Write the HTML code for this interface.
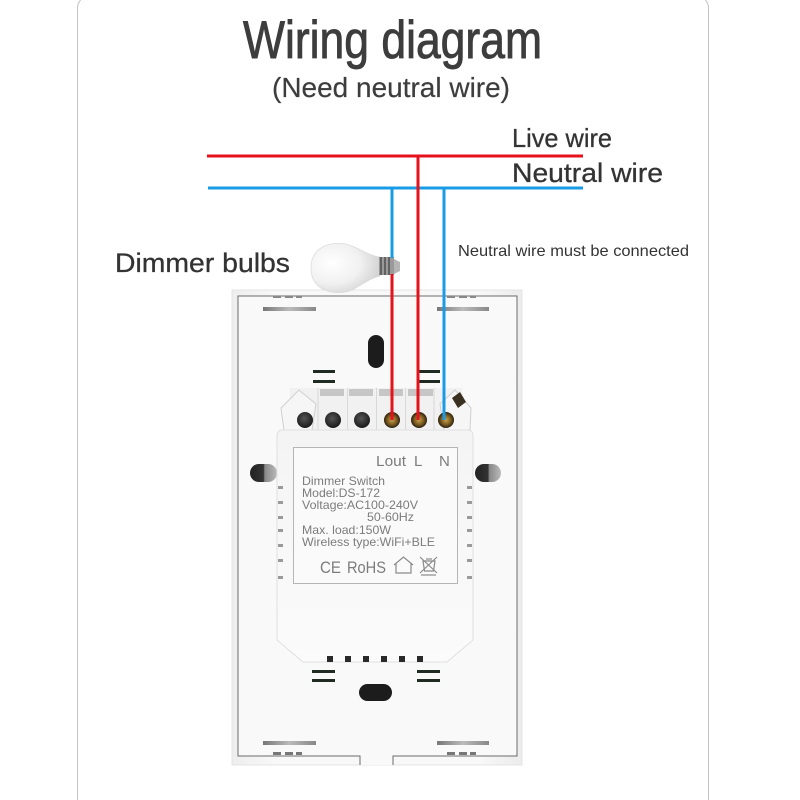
<!DOCTYPE html>
<html><head><meta charset="utf-8"><style>
html,body{margin:0;padding:0;background:#fff;}
svg{display:block;}
text{font-family:"Liberation Sans",sans-serif;}
</style></head><body>
<svg width="800" height="800" viewBox="0 0 800 800" xmlns="http://www.w3.org/2000/svg">
<defs>
<linearGradient id="plateG" x1="0" x2="1" y1="0" y2="0">
<stop offset="0" stop-color="#eeeeee"/><stop offset="0.15" stop-color="#f8f8f8"/><stop offset="0.85" stop-color="#f8f8f8"/><stop offset="1" stop-color="#ececec"/>
</linearGradient>
<linearGradient id="modG" x1="0" x2="0" y1="0" y2="1">
<stop offset="0" stop-color="#f4f4f4"/><stop offset="1" stop-color="#fbfbfb"/>
</linearGradient>
<radialGradient id="bulbG" cx="0.3" cy="0.4" r="0.75">
<stop offset="0" stop-color="#ffffff"/><stop offset="0.55" stop-color="#f1f1f1"/><stop offset="1" stop-color="#cfcfcf"/>
</radialGradient>
<radialGradient id="goldG" cx="0.5" cy="0.5" r="0.5">
<stop offset="0" stop-color="#c9a24a"/><stop offset="0.6" stop-color="#7a5a20"/><stop offset="1" stop-color="#2a2010"/>
</radialGradient>
<radialGradient id="holeG" cx="0.45" cy="0.4" r="0.6">
<stop offset="0" stop-color="#555"/><stop offset="1" stop-color="#1a1a1a"/>
</radialGradient>
<linearGradient id="slotG" x1="0" x2="1" y1="0" y2="0">
<stop offset="0" stop-color="#777"/><stop offset="0.5" stop-color="#bbb"/><stop offset="1" stop-color="#888"/>
</linearGradient>
<linearGradient id="sideHole" x1="0" x2="1" y1="0" y2="0">
<stop offset="0" stop-color="#222"/><stop offset="0.5" stop-color="#333"/><stop offset="0.55" stop-color="#888"/><stop offset="1" stop-color="#bbb"/>
</linearGradient>
</defs>

<rect x="77.5" y="-4" width="631" height="830" rx="12" fill="none" stroke="#c4c4c4" stroke-width="1"/>

<text x="243" y="58" font-size="53" fill="#3d3d3d" stroke="#3d3d3d" stroke-width="0.9" textLength="299" lengthAdjust="spacingAndGlyphs">Wiring diagram</text>
<text x="272" y="97" font-size="28" fill="#3d3d3d" stroke="#3d3d3d" stroke-width="0.2" textLength="238" lengthAdjust="spacingAndGlyphs">(Need neutral wire)</text>

<text x="512" y="147" font-size="26" fill="#333" stroke="#333" stroke-width="0.3" textLength="100" lengthAdjust="spacingAndGlyphs">Live wire</text>
<text x="512" y="182" font-size="27" fill="#333" stroke="#333" stroke-width="0.3" textLength="151" lengthAdjust="spacingAndGlyphs">Neutral wire</text>
<text x="115" y="272" font-size="27" fill="#333" stroke="#333" stroke-width="0.3" textLength="175" lengthAdjust="spacingAndGlyphs">Dimmer bulbs</text>
<text x="458" y="256" font-size="16" fill="#333" textLength="231" lengthAdjust="spacingAndGlyphs">Neutral wire must be connected</text>

<rect x="232" y="290" width="290" height="475" fill="url(#plateG)" stroke="#e4e4e4"/>
<polygon points="238,296 517,296 517,756 393,756 393,765 360,765 360,756 238,756" fill="#f9f9f9"/>
<path d="M360,765 V756 H238 V296 H517 V756 H393 V765" fill="none" stroke="#6a6a6a" stroke-width="1"/>

<rect x="263" y="307" width="53" height="4" fill="url(#slotG)"/>
<rect x="437" y="307" width="52" height="4" fill="url(#slotG)"/>
<g fill="#888"><rect x="273" y="296" width="8" height="2"/><rect x="285" y="296" width="8" height="2"/><rect x="296" y="296" width="6" height="2"/>
<rect x="447" y="296" width="8" height="2"/><rect x="459" y="296" width="8" height="2"/><rect x="470" y="296" width="6" height="2"/></g>
<rect x="263" y="741" width="53" height="4" fill="url(#slotG)"/>
<rect x="437" y="741" width="52" height="4" fill="url(#slotG)"/>
<g fill="#777"><rect x="273" y="752" width="8" height="3"/><rect x="285" y="752" width="8" height="3"/><rect x="296" y="752" width="6" height="3"/>
<rect x="447" y="752" width="8" height="3"/><rect x="459" y="752" width="8" height="3"/><rect x="470" y="752" width="6" height="3"/></g>

<rect x="368" y="335" width="16" height="33" rx="8" fill="#1c1c1c"/>
<rect x="359" y="684" width="33" height="17" rx="8.5" fill="#1c1c1c"/>

<rect x="250" y="464" width="27" height="18" rx="9" fill="url(#sideHole)"/>
<rect x="475" y="464" width="26" height="18" rx="9" fill="url(#sideHole)"/>

<g fill="#1e2a22">
<rect x="313" y="370" width="22" height="3"/><rect x="313" y="380" width="22" height="3"/>
<rect x="419" y="370" width="21" height="3"/><rect x="419" y="380" width="21" height="3"/>
<rect x="312" y="670" width="23" height="3"/><rect x="312" y="679" width="23" height="3"/>
<rect x="417" y="670" width="23" height="3"/><rect x="417" y="679" width="23" height="3"/>
</g>

<rect x="290" y="388" width="172" height="44" fill="#f1f1f1"/>
<polygon points="281,408 299,390 316,404 312,430 284,430" fill="#f6f6f6" stroke="#cfcfcf"/>
<polygon points="471,408 455,390 440,404 444,430 470,430" fill="#f6f6f6" stroke="#cfcfcf"/>
<g fill="#c6c6c6">
<rect x="320" y="389" width="24" height="7"/><rect x="349" y="389" width="24" height="7"/>
<rect x="379" y="389" width="24" height="7"/><rect x="408" y="389" width="25" height="7"/>
</g>
<g stroke="#d8d8d8" stroke-width="1">
<line x1="318" y1="388" x2="318" y2="430"/><line x1="347.5" y1="388" x2="347.5" y2="430"/>
<line x1="376.5" y1="388" x2="376.5" y2="430"/><line x1="405.5" y1="388" x2="405.5" y2="430"/>
<line x1="434" y1="388" x2="434" y2="430"/>
</g>
<circle cx="305" cy="420" r="8" fill="url(#holeG)"/>
<circle cx="333" cy="420" r="8" fill="url(#holeG)"/>
<circle cx="362" cy="420" r="8" fill="url(#holeG)"/>
<circle cx="392" cy="420" r="8" fill="url(#goldG)"/>
<circle cx="419" cy="420" r="8" fill="url(#goldG)"/>
<circle cx="446" cy="420" r="8" fill="url(#goldG)"/>
<polygon points="452,398 460,392 466,402 458,408" fill="#3a3020"/>

<path d="M277,436 Q277,430 283,430 H467 Q473,430 473,436 V640 L447,662 H303 L277,640 Z" fill="url(#modG)" stroke="#e0e0e0"/>
<g fill="#2a2a2a">
<rect x="327" y="656" width="6" height="6"/><rect x="345" y="656" width="6" height="6"/>
<rect x="363" y="656" width="6" height="6"/><rect x="381" y="656" width="6" height="6"/>
<rect x="399" y="656" width="6" height="6"/><rect x="417" y="656" width="6" height="6"/>
</g>
<g fill="#9a9a9a">
<rect x="278" y="486" width="5" height="3"/><rect x="278" y="501" width="5" height="3"/><rect x="278" y="516" width="5" height="3"/>
<rect x="278" y="529" width="5" height="3"/><rect x="278" y="544" width="5" height="3"/><rect x="278" y="559" width="5" height="3"/><rect x="278" y="576" width="5" height="3"/>
<rect x="467" y="486" width="5" height="3"/><rect x="467" y="501" width="5" height="3"/><rect x="467" y="516" width="5" height="3"/>
<rect x="467" y="529" width="5" height="3"/><rect x="467" y="544" width="5" height="3"/><rect x="467" y="559" width="5" height="3"/><rect x="467" y="576" width="5" height="3"/>
</g>

<rect x="293.5" y="447.5" width="164" height="136" fill="#fafafa" stroke="#b5b5b5"/>
<g fill="#7c7c7c">
<text x="376" y="466" font-size="15" textLength="30" lengthAdjust="spacingAndGlyphs">Lout</text>
<text x="414" y="466" font-size="15">L</text>
<text x="439" y="466" font-size="15">N</text>
<text x="302" y="485" font-size="12" textLength="83" lengthAdjust="spacingAndGlyphs">Dimmer Switch</text>
<text x="302" y="497" font-size="12" textLength="78" lengthAdjust="spacingAndGlyphs">Model:DS-172</text>
<text x="302" y="509" font-size="12" textLength="116" lengthAdjust="spacingAndGlyphs">Voltage:AC100-240V</text>
<text x="367" y="521" font-size="12" textLength="47" lengthAdjust="spacingAndGlyphs">50-60Hz</text>
<text x="302" y="534" font-size="12" textLength="89" lengthAdjust="spacingAndGlyphs">Max. load:150W</text>
<text x="302" y="546" font-size="12" textLength="133" lengthAdjust="spacingAndGlyphs">Wireless type:WiFi+BLE</text>
<text x="320" y="573" font-size="17" textLength="21" lengthAdjust="spacingAndGlyphs">CE</text>
<text x="347" y="573" font-size="17" textLength="39" lengthAdjust="spacingAndGlyphs">RoHS</text>
</g>
<path d="M394,565 L403.5,557 L413,565 M396,563.5 V573 H411 V563.5" fill="none" stroke="#8a8a8a" stroke-width="1.2"/>
<g fill="none" stroke="#8a8a8a" stroke-width="1.2">
<path d="M423,561 H435 L433.5,571 H424.5 Z"/><line x1="426" y1="559" x2="432" y2="559"/>
<line x1="420" y1="557" x2="437" y2="573"/><line x1="437" y1="557" x2="420" y2="573"/>
<line x1="421" y1="575" x2="436" y2="575"/>
</g>

<!-- bulb -->
<path d="M380,257 C370,256 362,250 352,246 C338,240 311,243 311,268 C311,293 338,296 352,290 C362,285 370,278 380,276 Z" fill="url(#bulbG)" stroke="#dcdcdc" stroke-width="0.8"/>
<rect x="379" y="257" width="15" height="18" fill="#9a9a9a"/>
<g stroke="#444" stroke-width="1.3">
<line x1="381" y1="257" x2="381" y2="275"/><line x1="385" y1="257" x2="385" y2="275"/><line x1="389" y1="257" x2="389" y2="275"/>
</g>
<path d="M394,259 L400,262 L400,271 L394,274 Z" fill="#b5b5b5"/>

<g stroke-width="3" fill="none">
<line x1="207" y1="156" x2="583" y2="156" stroke="#e5121b"/>
<line x1="208" y1="188" x2="583" y2="188" stroke="#1a9be6"/>
<line x1="418" y1="156" x2="418" y2="420" stroke="#e5121b"/>
<line x1="392" y1="188" x2="392" y2="258" stroke="#1a9be6"/>
<line x1="392" y1="274" x2="392" y2="420" stroke="#e5121b"/>
<line x1="444" y1="188" x2="444" y2="420" stroke="#1a9be6"/>
</g>
</svg>
</body></html>
